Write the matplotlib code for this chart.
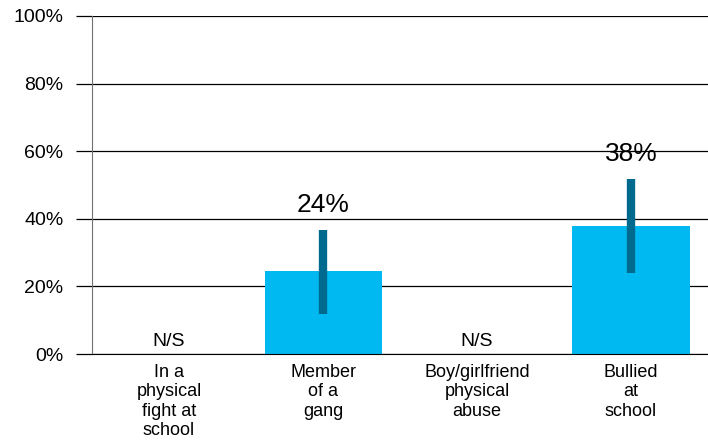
import matplotlib.pyplot as plt
from matplotlib.ticker import PercentFormatter

categories = ['In a\nphysical\nfight at\nschool', 'Member\nof a\ngang',
              'Boy/girlfriend\nphysical\nabuse', 'Bullied\nat\nschool']
values = [None, 0.245, None, 0.379]
err_low = [None, 0.118, None, 0.240]
err_high = [None, 0.367, None, 0.518]
value_labels = ['N/S', '24%', 'N/S', '38%']

bar_color = '#00B9F1'
err_color = '#006A8E'

plt.rcParams['font.family'] = ['Liberation Sans', 'DejaVu Sans']

fig = plt.figure(figsize=(7.08, 4.42), dpi=100)
ax = fig.add_axes([0.130, 0.199, 0.870, 0.765])

x = list(range(len(categories)))
for i, v in enumerate(values):
    if v is None:
        ax.text(i, 0.012, value_labels[i], ha='center', va='bottom', fontsize=14)
        continue
    ax.bar(i, v, width=0.76, color=bar_color, zorder=2)
    ax.vlines(i, err_low[i], err_high[i], color=err_color, linewidth=6, zorder=3)
    ax.annotate(value_labels[i], (i, err_high[i]), xytext=(0, 9), textcoords='offset points',
                ha='center', va='bottom', fontsize=19)

ax.set_xlim(-0.5, 3.5)
ax.set_ylim(0, 1.0)
ax.set_yticks([0, 0.2, 0.4, 0.6, 0.8, 1.0])
ax.yaxis.set_major_formatter(PercentFormatter(1.0, decimals=0))
ax.grid(axis='y', color='black', linewidth=0.9, zorder=0)
ax.set_xticks(x)
ax.set_xticklabels(categories, fontsize=13, linespacing=1.19)
ax.tick_params(axis='x', length=0, pad=7)
ax.tick_params(axis='y', length=11.5, width=0.9, labelsize=14, pad=9, direction='out')

for s in ['top', 'right']:
    ax.spines[s].set_visible(False)
ax.spines['left'].set_color('#707070')
ax.spines['bottom'].set_color('black')

fig.savefig('out.png', dpi=100)
